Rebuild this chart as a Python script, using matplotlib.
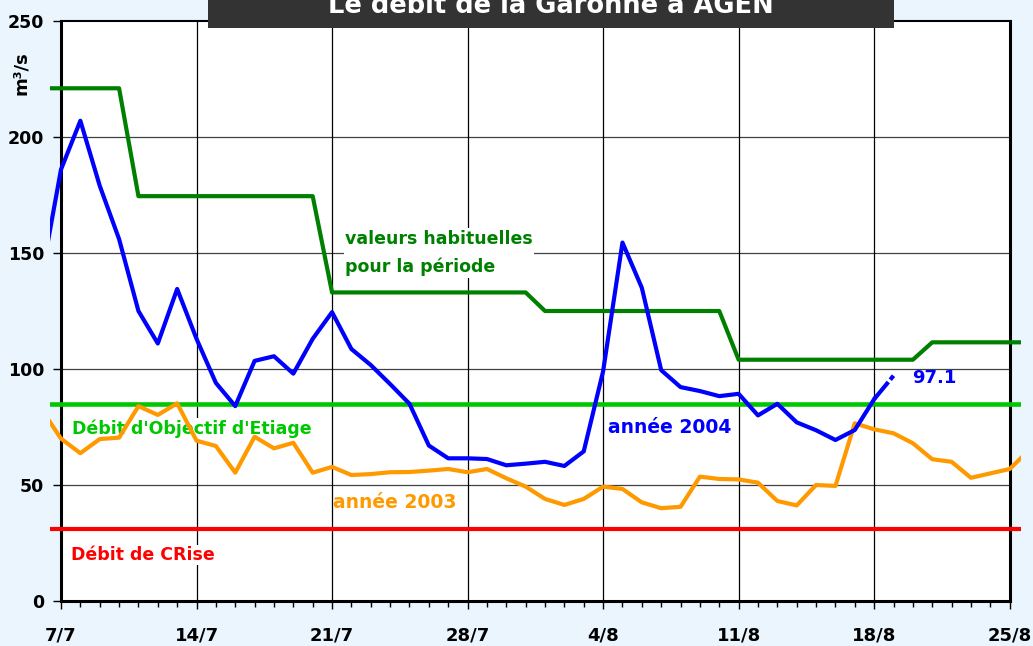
import matplotlib
matplotlib.use('Agg')
import matplotlib.pyplot as plt
from matplotlib.patches import Rectangle

plt.rcParams['font.family'] = ['DejaVu Sans']
plt.rcParams['font.weight'] = 'bold'
plt.rcParams['lines.scale_dashes'] = False

# day offsets relative to 7 July (0 = 7/7, 49 = 25/8)
tick_days = [0, 7, 14, 21, 28, 35, 42, 49]
tick_labels = ['7/7', '14/7', '21/7', '28/7', '4/8', '11/8', '18/8', '25/8']

days_2004 = list(range(-1, 44))
flow_2004 = [140, 186, 207, 179, 156, 125, 111, 134.5, 113, 94, 84,
             103.5, 105.5, 98, 113, 124.5, 108.6, 101.7, 93.5, 85, 67,
             61.5, 61.5, 61.2, 58.5, 59.2, 60, 58.2, 64.5, 99, 154.5,
             135, 99.5, 92.2, 90.5, 88.3, 89.3, 80, 85, 77, 73.6,
             69.4, 73.7, 87, 97.1]

days_2003 = list(range(-1, 51))
flow_2003 = [82.5, 70, 63.7, 69.8, 70.4, 84, 80.2, 85.2, 69.1, 66.8, 55.3,
             70.8, 65.8, 68.2, 55.3, 57.8, 54.3, 54.7, 55.5, 55.6, 56.2,
             56.9, 55.5, 56.9, 52.9, 49.3, 44, 41.4, 44, 49.3, 48.3,
             42.5, 40, 40.6, 53.6, 52.6, 52.4, 51, 43.1, 41.2, 50,
             49.6, 76.6, 74, 72.3, 68, 61.1, 60, 53.1, 55, 56.9, 65]

days_hab = list(range(-1, 51))
flow_hab = [221, 221, 221, 221, 221,
            174.5, 174.5, 174.5, 174.5, 174.5, 174.5, 174.5, 174.5, 174.5, 174.5,
            133, 133, 133, 133, 133, 133, 133, 133, 133, 133, 133,
            125, 125, 125, 125, 125, 125, 125, 125, 125, 125,
            104, 104, 104, 104, 104, 104, 104, 104, 104, 104,
            111.5, 111.5, 111.5, 111.5, 111.5, 111.5]

doe_value = 85
dcr_value = 31
last_value_label = '97.1'

BG = '#EAF5FD'
fig = plt.figure(figsize=(10.33, 6.46), dpi=100, facecolor=BG)
ax = fig.add_axes([50.35 / 1033, 45 / 646, (1021.3 - 50.35) / 1033, 580 / 646])
ax.set_xlim(-0.55, 49.6)
ax.set_ylim(0, 250)
ax.set_facecolor('none')
ax.axvspan(tick_days[0], tick_days[-1], color='white', zorder=0, lw=0)

# grid
ax.hlines([50, 100, 150, 200], tick_days[0], tick_days[-1], color='#404040', lw=0.9, zorder=1)
ax.vlines(tick_days[1:-1], 0, 250, color='black', lw=0.9, zorder=1)

# spines
ax.spines['left'].set_position(('data', tick_days[0]))
ax.spines['right'].set_position(('data', tick_days[-1]))
ax.spines['top'].set_bounds(tick_days[0], tick_days[-1])
ax.spines['bottom'].set_bounds(tick_days[0], tick_days[-1])
for s in ['left', 'right', 'bottom']:
    ax.spines[s].set_linewidth(2.2)
ax.spines['top'].set_linewidth(1.5)

ax.set_xticks(tick_days)
ax.set_xticklabels(tick_labels)
ax.set_xticks(list(range(tick_days[0], tick_days[-1] + 1)), minor=True)
ax.set_yticks([0, 50, 100, 150, 200, 250])
ax.tick_params(axis='x', which='major', length=6, width=1, direction='out', pad=12, labelsize=13)
ax.tick_params(axis='x', which='minor', length=4, width=1, direction='out')
ax.tick_params(axis='y', which='major', length=6, width=1, direction='out', pad=6, labelsize=12.5)

# series
ax.axhline(doe_value, color='#00C800', lw=3.3, zorder=3)
ax.axhline(dcr_value, color='#FF0000', lw=3.0, zorder=3)
ax.plot(days_hab, flow_hab, color='#008000', lw=3.0, zorder=4)
ax.plot(days_2003, flow_2003, color='#FF9900', lw=3.0, zorder=4)
ax.plot(days_2004[:-1], flow_2004[:-1], color='#0000FF', lw=3.0, zorder=5)
ax.plot(days_2004[-2:], flow_2004[-2:], color='#0000FF', lw=3.0, zorder=5,
        dashes=(16, 2.2, 4, 20))

# labels
box = dict(facecolor='white', edgecolor='none', pad=1)
ax.text(0.55, 72, "Débit d'Objectif d'Etiage", color='#00C800', fontsize=12.5,
        va='baseline', ha='left', bbox=box, zorder=2)
ax.text(0.5, 17.7, "Débit de CRise", color='#FF0000', fontsize=12.5,
        va='baseline', ha='left', bbox=box, zorder=2)
ax.text(14.67, 160, "valeurs habituelles\npour la période", color='#008000', fontsize=12.5,
        va='top', ha='left', linespacing=1.7, bbox=box, zorder=2)
ax.text(14.05, 40, "année 2003", color='#FF9900', fontsize=13.5,
        va='baseline', ha='left', zorder=2)
ax.text(28.25, 72.4, "année 2004", color='#0000FF', fontsize=13.5,
        va='baseline', ha='left', zorder=2)
ax.text(43.96, 94, last_value_label, color='#0000FF', fontsize=13,
        va='baseline', ha='left', zorder=6)

# y axis unit
fig.text(21 / 1033, 1 - 73 / 646, 'm³/s', rotation=90, ha='center', va='center', fontsize=13)

# title box
fig.patches.append(Rectangle((208 / 1033, 1 - 28 / 646), (894 - 208) / 1033, 40 / 646,
                             transform=fig.transFigure, facecolor='#333333',
                             edgecolor='none', zorder=10))
fig.text(551 / 1033, 1 - 13 / 646, 'Le débit de la Garonne à AGEN', color='white',
         fontsize=18.5, ha='center', va='baseline', zorder=11)

fig.savefig('out.png', dpi=100, facecolor=BG)
